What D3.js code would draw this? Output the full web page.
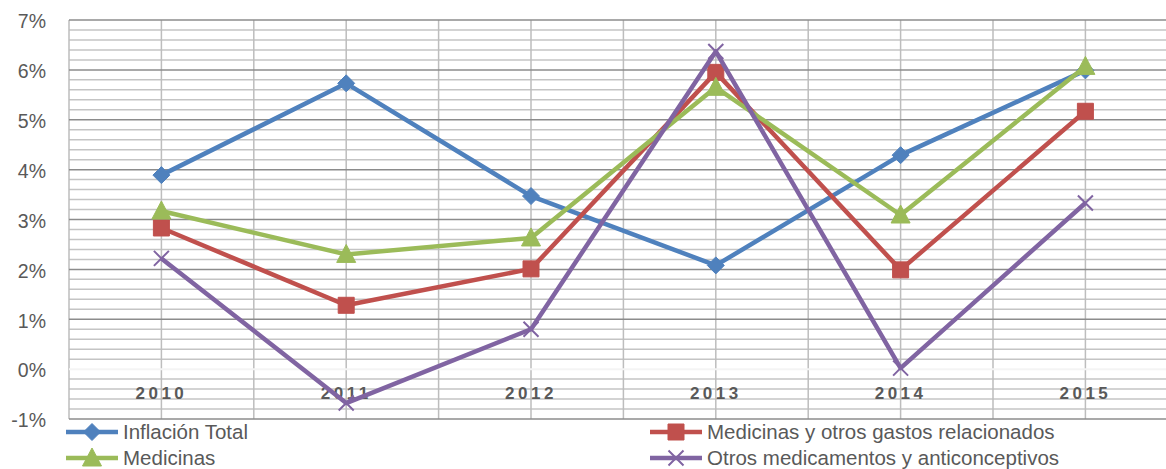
<!DOCTYPE html>
<html>
<head>
<meta charset="utf-8">
<script src="https://cdn.jsdelivr.net/npm/d3@7"></script>
<style>
  html, body { margin: 0; padding: 0; background: #fff; }
  svg { display: block; }
  text { font-family: "Liberation Sans", Arial, sans-serif; fill: #595959; }
</style>
</head>
<body>
<svg id="chart" width="1166" height="469"></svg>
<script>
// Years on the category axis
const years = ["2010", "2011", "2012", "2013", "2014", "2015"];

// Annual variation, in percent
const inflacionTotal = [3.89, 5.73, 3.47, 2.08, 4.29, 5.99];
const medicinasOtrosGastos = [2.83, 1.28, 2.01, 5.95, 1.99, 5.17];
const medicinas = [3.17, 2.30, 2.63, 5.65, 3.09, 6.07];
const otrosMedicamentos = [2.22, -0.68, 0.80, 6.37, 0.02, 3.33];

const yTicks = [-1, 0, 1, 2, 3, 4, 5, 6, 7];

const series = [
  { name: "Inflación Total", values: inflacionTotal, color: "#4F81BD", marker: "diamond" },
  { name: "Medicinas y otros gastos relacionados", values: medicinasOtrosGastos, color: "#C0504D", marker: "square" },
  { name: "Medicinas", values: medicinas, color: "#9BBB59", marker: "triangle" },
  { name: "Otros medicamentos y anticonceptivos", values: otrosMedicamentos, color: "#8064A2", marker: "x" }
];

const svg = d3.select("#chart");
const plotLeft = 69, plotTop = 20, plotBottom = 419;

const x = d3.scaleBand().domain(years).range([plotLeft, plotLeft + 6 * 184.8]).padding(0);
const bw = x.bandwidth();
const cx = d => x(d) + bw / 2;
const y = d3.scaleLinear().domain([-1, 7]).range([plotBottom, plotTop]);

const grid = svg.append("g");

// Minor horizontal gridlines every 0.2 %
const minor = d3.range(-1, 7.001, 0.2).map(v => Math.round(v * 10) / 10)
  .filter(v => Math.abs(v - Math.round(v)) > 1e-6);
grid.selectAll("line.minor").data(minor).join("line")
  .attr("x1", plotLeft).attr("x2", 1166)
  .attr("y1", d => y(d)).attr("y2", d => y(d))
  .attr("stroke", "#c4c4c4").attr("stroke-width", 1.5);

// Vertical gridlines at category edges and centres
const vlines = [];
years.forEach(yr => { vlines.push(x(yr)); vlines.push(cx(yr)); });
grid.selectAll("line.v").data(vlines).join("line")
  .attr("x1", d => d).attr("x2", d => d)
  .attr("y1", plotTop).attr("y2", plotBottom)
  .attr("stroke", "#bdbdbd").attr("stroke-width", 1.5);

// Major horizontal gridlines at each whole percent
grid.selectAll("line.major").data(yTicks.filter(v => v !== 0)).join("line")
  .attr("x1", plotLeft).attr("x2", 1166)
  .attr("y1", d => y(d)).attr("y2", d => y(d))
  .attr("stroke", "#8c8c8c").attr("stroke-width", 1.5);

// Category axis crosses at zero, drawn as a white line
grid.append("line")
  .attr("x1", plotLeft).attr("x2", 1166)
  .attr("y1", y(0)).attr("y2", y(0))
  .attr("stroke", "#f4f4f4").attr("stroke-width", 2);

// Y axis labels
const yAxis = svg.append("g")
  .attr("transform", `translate(${plotLeft},0)`)
  .call(d3.axisLeft(y).tickValues(yTicks).tickFormat(d => d + "%").tickSize(0).tickPadding(23));
yAxis.select(".domain").remove();
yAxis.selectAll("text")
  .style("font-family", "'Liberation Sans', Arial, sans-serif")
  .style("font-size", "19.5px").attr("fill", "#595959").attr("dy", "0.4em");

// Year labels under the zero line
const xAxis = svg.append("g")
  .attr("transform", `translate(0,${y(0)})`)
  .call(d3.axisBottom(x).tickSize(0).tickPadding(18));
xAxis.select(".domain").remove();
xAxis.selectAll("text")
  .style("font-family", "'Liberation Sans', Arial, sans-serif")
  .style("font-size", "17px").style("font-weight", "bold")
  .style("letter-spacing", "3.5px")
  .attr("fill", "#595959");

// Marker shapes
function markerPath(type) {
  switch (type) {
    case "diamond": return "M0,-8.5L8.5,0L0,8.5L-8.5,0Z";
    case "square": return "M-8,-8H8V8H-8Z";
    case "triangle": return "M0,-10L9.5,8H-9.5Z";
    case "x": return "M-7.5,-7.5L7.5,7.5M7.5,-7.5L-7.5,7.5";
  }
}
function drawMarker(g, type, color) {
  const p = g.append("path").attr("d", markerPath(type));
  if (type === "x") p.attr("fill", "none").attr("stroke", color).attr("stroke-width", 2);
  else p.attr("fill", color).attr("stroke", color).attr("stroke-width", 1);
}

const line = d3.line().x((d, i) => cx(years[i])).y(d => y(d));

const plot = svg.append("g");
series.forEach(s => {
  plot.append("path").datum(s.values)
    .attr("d", line)
    .attr("fill", "none")
    .attr("stroke", s.color)
    .attr("stroke-width", 4.5)
    .attr("stroke-linejoin", "round");
  s.values.forEach((v, i) => {
    const g = plot.append("g").attr("transform", `translate(${cx(years[i])},${y(v)})`);
    drawMarker(g, s.marker, s.color);
  });
});

// Legend, two columns by two rows
const legendPos = [
  { x: 66, y: 432 }, { x: 650, y: 432 },
  { x: 66, y: 458 }, { x: 650, y: 458 }
];
series.forEach((s, k) => {
  const p = legendPos[k];
  const g = svg.append("g").attr("transform", `translate(${p.x},${p.y})`);
  g.append("line").attr("x1", 0).attr("x2", 52).attr("y1", 0).attr("y2", 0)
    .attr("stroke", s.color).attr("stroke-width", 4.5);
  const m = g.append("g").attr("transform", "translate(26,0)");
  drawMarker(m, s.marker, s.color);
  g.append("text").attr("x", 57).attr("y", 0).attr("dy", "0.36em")
    .style("font-size", "20.5px").attr("fill", "#595959").text(s.name);
});
</script>
</body>
</html>
